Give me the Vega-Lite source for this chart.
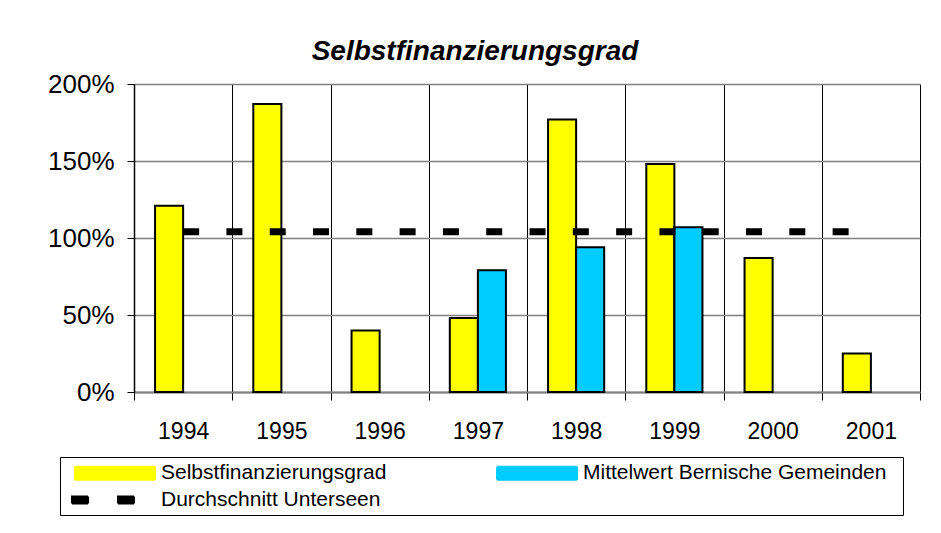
{
  "$schema": "https://vega.github.io/schema/vega-lite/v6.json",
  "autosize": "none",
  "padding": {"left": 134, "top": 84, "right": 21, "bottom": 141},
  "width": 786,
  "height": 308,
  "background": "white",
  "title": {
    "text": "Selbstfinanzierungsgrad",
    "font": "Liberation Sans",
    "fontSize": 28,
    "fontStyle": "italic",
    "fontWeight": "bold",
    "color": "black",
    "frame": "group",
    "anchor": "middle",
    "baseline": "alphabetic",
    "offset": 24,
    "dx": -52,
    "dy": 41
  },
  "data": {
    "values": [
      {"year": "1994", "series": "Selbstfinanzierungsgrad", "value": 1.21},
      {"year": "1995", "series": "Selbstfinanzierungsgrad", "value": 1.87},
      {"year": "1996", "series": "Selbstfinanzierungsgrad", "value": 0.40},
      {"year": "1997", "series": "Selbstfinanzierungsgrad", "value": 0.48},
      {"year": "1998", "series": "Selbstfinanzierungsgrad", "value": 1.77},
      {"year": "1999", "series": "Selbstfinanzierungsgrad", "value": 1.48},
      {"year": "2000", "series": "Selbstfinanzierungsgrad", "value": 0.87},
      {"year": "2001", "series": "Selbstfinanzierungsgrad", "value": 0.25},
      {"year": "1997", "series": "Mittelwert Bernische Gemeinden", "value": 0.79},
      {"year": "1998", "series": "Mittelwert Bernische Gemeinden", "value": 0.94},
      {"year": "1999", "series": "Mittelwert Bernische Gemeinden", "value": 1.07},
      {"year": "1994", "series": "Durchschnitt Unterseen", "value": 1.04},
      {"year": "1995", "series": "Durchschnitt Unterseen", "value": 1.04},
      {"year": "1996", "series": "Durchschnitt Unterseen", "value": 1.04},
      {"year": "1997", "series": "Durchschnitt Unterseen", "value": 1.04},
      {"year": "1998", "series": "Durchschnitt Unterseen", "value": 1.04},
      {"year": "1999", "series": "Durchschnitt Unterseen", "value": 1.04},
      {"year": "2000", "series": "Durchschnitt Unterseen", "value": 1.04},
      {"year": "2001", "series": "Durchschnitt Unterseen", "value": 1.04}
    ]
  },
  "encoding": {
    "x": {
      "field": "year",
      "type": "nominal",
      "scale": {"paddingInner": 0, "paddingOuter": 0},
      "axis": {
        "title": null,
        "labelAngle": 0,
        "tickBand": "extent",
        "grid": true,
        "gridColor": "black",
        "gridWidth": 1,
        "tickColor": "black",
        "tickSize": 8,
        "tickWidth": 1,
        "domainColor": "#808080",
        "domainWidth": 2,
        "labelFont": "Liberation Sans",
        "labelFontSize": 23,
        "labelColor": "black",
        "labelPadding": 20
      }
    },
    "y": {
      "field": "value",
      "type": "quantitative",
      "scale": {"domain": [0, 2], "nice": false},
      "axis": {
        "title": null,
        "values": [0, 0.5, 1, 1.5, 2],
        "format": ".0%",
        "grid": true,
        "gridColor": "#808080",
        "gridWidth": 1.5,
        "domainColor": "black",
        "domainWidth": 1.5,
        "tickColor": "black",
        "tickSize": 7,
        "tickWidth": 1,
        "labelFont": "Liberation Sans",
        "labelFontSize": 26,
        "labelColor": "black",
        "labelPadding": 13
      }
    },
    "color": {
      "field": "series",
      "type": "nominal",
      "sort": null,
      "scale": {
        "domain": ["Selbstfinanzierungsgrad", "Mittelwert Bernische Gemeinden", "Durchschnitt Unterseen"],
        "range": ["#FFFF00", "#00CCFF", "#000000"]
      },
      "legend": {
        "title": null,
        "orient": "none",
        "direction": "horizontal",
        "legendX": -74,
        "legendY": 373,
        "columns": 2,
        "columnPadding": 100,
        "rowPadding": 5,
        "padding": 5,
        "strokeColor": "black",
        "symbolSize": 400,
        "symbolStrokeWidth": 2,
        "symbolStrokeColor": "black",
        "symbolOffset": 39,
        "labelOffset": 35,
        "labelFont": "Liberation Sans",
        "labelFontSize": 21,
        "labelColor": "black",
        "labelLimit": 0,
        "encode": {
          "symbols": {
            "update": {
              "shape": {"signal": "datum.value === 'Durchschnitt Unterseen' ? 'M-4.3,-0.35H-2.7V0.35H-4.3ZM0.3,-0.35H1.9V0.35H0.3Z' : (datum.value === 'Mittelwert Bernische Gemeinden' ? 'M-4,-0.65H4V0.65H-4ZM35.7,0' : 'M-4,-0.65H4V0.65H-4Z')"},
              "stroke": {"signal": "datum.value === 'Durchschnitt Unterseen' ? 'transparent' : 'black'"},
              "strokeWidth": {"value": 2},
              "strokeDash": {"value": [1, 0]},
              "strokeOpacity": {"value": 1},
              "fillOpacity": {"value": 1},
              "fill": {"signal": "scale('color', datum.value)"}
            }
          }
        }
      }
    }
  },
  "layer": [
    {
      "transform": [{"filter": "datum.series !== 'Durchschnitt Unterseen'"}],
      "mark": {"type": "bar", "stroke": "black", "strokeWidth": 2},
      "encoding": {
        "xOffset": {
          "field": "series",
          "type": "nominal",
          "scale": {
            "domain": ["Selbstfinanzierungsgrad", "Mittelwert Bernische Gemeinden"],
            "paddingInner": 0,
            "paddingOuter": 0.75
          }
        }
      }
    },
    {
      "transform": [{"filter": "datum.series === 'Durchschnitt Unterseen'"}],
      "mark": {"type": "line", "strokeWidth": 7, "strokeDash": [16, 27.3], "strokeCap": "butt"},
      "encoding": {}
    }
  ],
  "config": {
    "view": {"stroke": null}
  }
}
